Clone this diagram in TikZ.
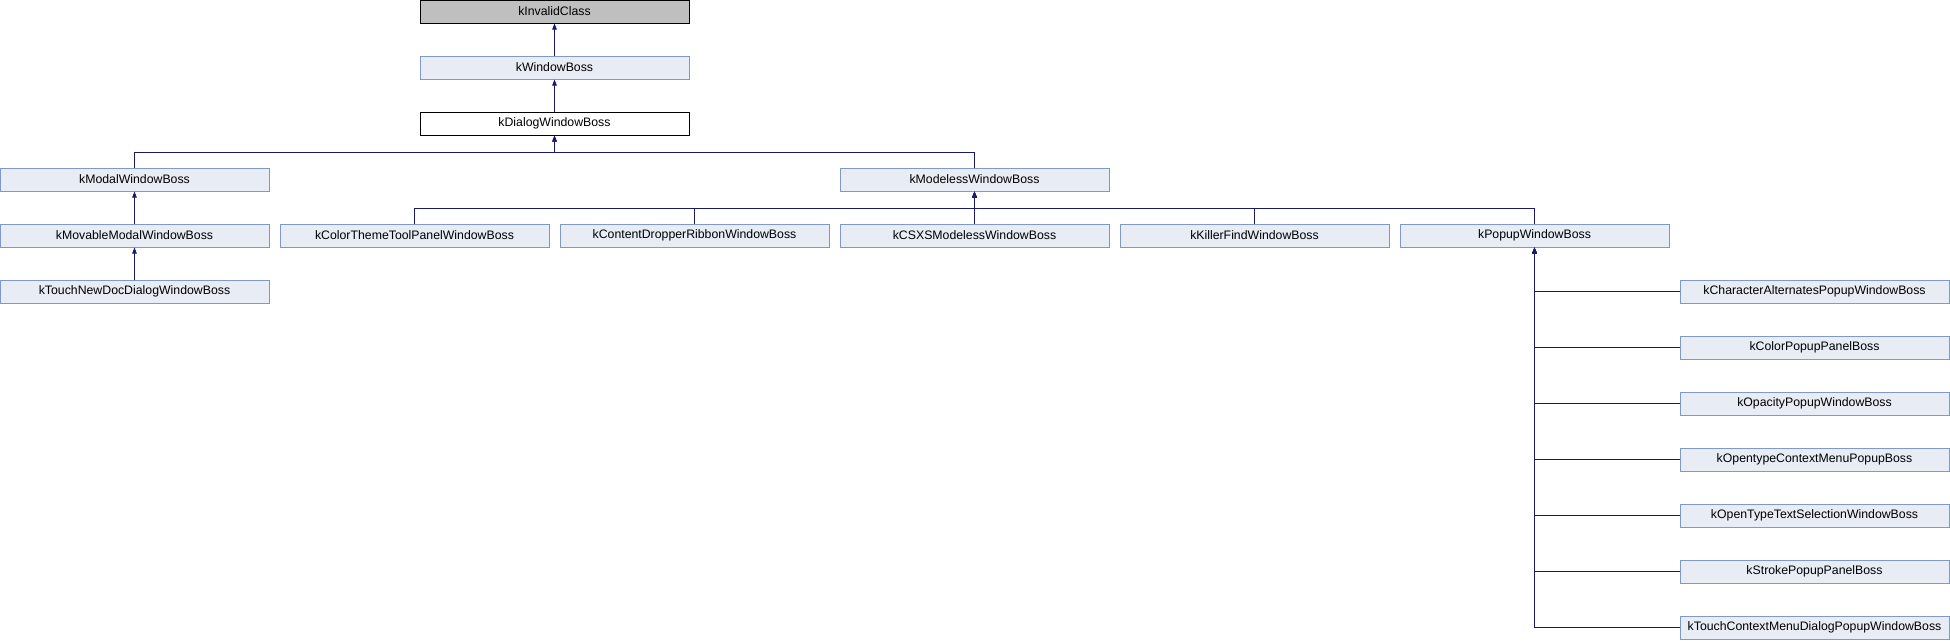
\documentclass[tikz,border=0pt]{standalone}
\usepackage{fontspec}
\setmainfont{Liberation Sans}
\usetikzlibrary{arrows.meta,calc}
\definecolor{boxfill}{HTML}{E8ECF5}
\definecolor{boxdraw}{HTML}{7F99CC}
\definecolor{edgecol}{HTML}{191970}
\definecolor{topfill}{HTML}{BFBFBF}
\tikzset{
  cls/.style={rectangle, draw=boxdraw, fill=boxfill, line width=1pt,
    minimum width=269pt, minimum height=23pt, inner sep=0pt,
    font=\fontsize{12.3pt}{14pt}\selectfont},
  clsroot/.style={cls, draw=black, fill=topfill},
  clscur/.style={cls, draw=black, fill=white},
  edge/.style={draw=edgecol, line width=1pt, -{Triangle[length=6pt,width=4.5pt]}},
}
\begin{document}
\begin{tikzpicture}[x=1pt,y=-1pt]
\useasboundingbox (0,0) rectangle (1950,640);
\node[clsroot] (inv) at (554.5,11.5) {kInvalidClass};
\node[cls] (win) at (554.5,67.5) {kWindowBoss};
\node[clscur] (dlg) at (554.5,123.5) {kDialogWindowBoss};
\node[cls] (modal) at (134.5,179.5) {kModalWindowBoss};
\node[cls] (modeless) at (974.5,179.5) {kModelessWindowBoss};
\node[cls] (movable) at (134.5,235.5) {kMovableModalWindowBoss};
\node[cls] (touchnew) at (134.5,291.5) {kTouchNewDocDialogWindowBoss};
\node[cls] (colortheme) at (414.5,235.5) {kColorThemeToolPanelWindowBoss};
\node[cls] (content) at (694.5,235.5) {kContentDropperRibbonWindowBoss};
\node[cls] (csxs) at (974.5,235.5) {kCSXSModelessWindowBoss};
\node[cls] (killer) at (1254.5,235.5) {kKillerFindWindowBoss};
\node[cls] (popup) at (1534.5,235.5) {kPopupWindowBoss};
\node[cls] (charalt) at (1814.5,291.5) {kCharacterAlternatesPopupWindowBoss};
\node[cls] (colorpop) at (1814.5,347.5) {kColorPopupPanelBoss};
\node[cls] (opacity) at (1814.5,403.5) {kOpacityPopupWindowBoss};
\node[cls] (opentype) at (1814.5,459.5) {kOpentypeContextMenuPopupBoss};
\node[cls] (opentext) at (1814.5,515.5) {kOpenTypeTextSelectionWindowBoss};
\node[cls] (stroke) at (1814.5,571.5) {kStrokePopupPanelBoss};
\node[cls] (touchctx) at (1814.5,627.5) {kTouchContextMenuDialogPopupWindowBoss};

\draw[edge] (win.north) -- (inv.south);
\draw[edge] (dlg.north) -- (win.south);
\foreach \c in {modal,modeless}
  \draw[edge] (\c.north) |- ($(dlg.south)+(0,17)$) -- (dlg.south);
\draw[edge] (movable.north) -- (modal.south);
\draw[edge] (touchnew.north) -- (movable.south);
\foreach \c in {colortheme,content,csxs,killer,popup}
  \draw[edge] (\c.north) |- ($(modeless.south)+(0,17)$) -- (modeless.south);
\foreach \c in {charalt,colorpop,opacity,opentype,opentext,stroke,touchctx}
  \draw[edge] (\c.west) -| (popup.south);
\end{tikzpicture}
\end{document}
